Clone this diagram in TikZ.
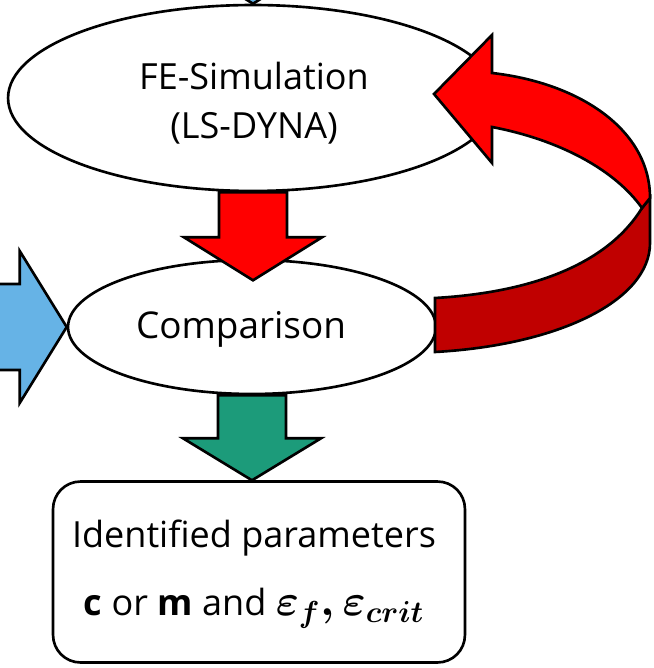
\documentclass[tikz,border=0pt]{standalone}
\usepackage{fontspec}
\usepackage{bm}
\setmainfont{Open Sans}
\usetikzlibrary{shapes.geometric}

\definecolor{loopred}{RGB}{255,0,0}
\definecolor{loopdark}{RGB}{192,0,0}
\definecolor{outgreen}{RGB}{28,155,122}
\definecolor{inblue}{RGB}{102,179,230}

\tikzset{
  stage/.style={ellipse, draw, line width=1.5pt, fill=white, inner sep=0pt},
  result/.style={rectangle, rounded corners=0.55cm, draw, line width=1.5pt,
    fill=white, inner sep=0pt},
  caption/.style={inner sep=0pt, align=center, font=\fontsize{20.5}{28}\selectfont},
  block/.style={draw, line width=1.5pt, line join=miter},
}

\begin{document}
\begin{tikzpicture}[x=0.02cm,y=-0.02cm]
\clip (0,0) rectangle (653,668);

\node[stage, minimum width=9.8cm, minimum height=3.72cm] (sim) at (253,98) {};
\node[caption] (simtext) at (254,103) {FE-Simulation\\(LS-DYNA)};
\node[stage, minimum width=7.36cm, minimum height=2.68cm] (cmp) at (252,327) {};
\node[caption, font=\fontsize{21}{28}\selectfont] (cmptext) at (241,329) {Comparison};
\node[result, minimum width=8.24cm, minimum height=3.62cm] (par) at (259,572) {};
\node[caption] (partext) at (254,574)
  {Identified parameters\\[11pt]
   \textbf{c} or \textbf{m} and {\boldmath\fontsize{23}{28}\selectfont
   $\bm{\varepsilon_f, \varepsilon_{crit}}$}};

% inputs coming in from outside
\draw[block, fill=inblue] (sim.north) -- ++(-76,-47) -- ++(33,0) -- ++(0,-40)
  -- ++(86,0) -- ++(0,40) -- ++(33,0) -- cycle;
\draw[block, fill=inblue] (cmp.west) -- ++(-47,-76) -- ++(0,33) -- ++(-40,0)
  -- ++(0,86) -- ++(40,0) -- ++(0,33) -- cycle;

% simulation -> comparison -> result
\draw[block, fill=loopred] (sim.south) ++(-34,0) -- ++(0,45) -- ++(-35,0)
  -- ++(69,43) -- ++(69,-43) -- ++(-35,0) -- ++(0,-45) -- cycle;
\draw[block, fill=outgreen] (cmp.south) ++(-34,0) -- ++(0,43) -- ++(-35,0)
  -- ++(69,42) -- ++(69,-42) -- ++(-35,0) -- ++(0,-43) -- cycle;

% iteration loop, back half first
\draw[block, fill=loopdark] (642,208) -- (650,198) -- (650,243)
  .. controls (650,300) and (560,345) .. (435,352) -- (435,298)
  .. controls (540,292) and (610,260) .. (642,208) -- cycle;
\draw[block, fill=loopred] (434,94) -- (492,35) -- (492,73)
  .. controls (580,83) and (650,130) .. (650,198) -- (642,208)
  .. controls (615,170) and (560,140) .. (492,127) -- (492,163) -- cycle;
\end{tikzpicture}
\end{document}
